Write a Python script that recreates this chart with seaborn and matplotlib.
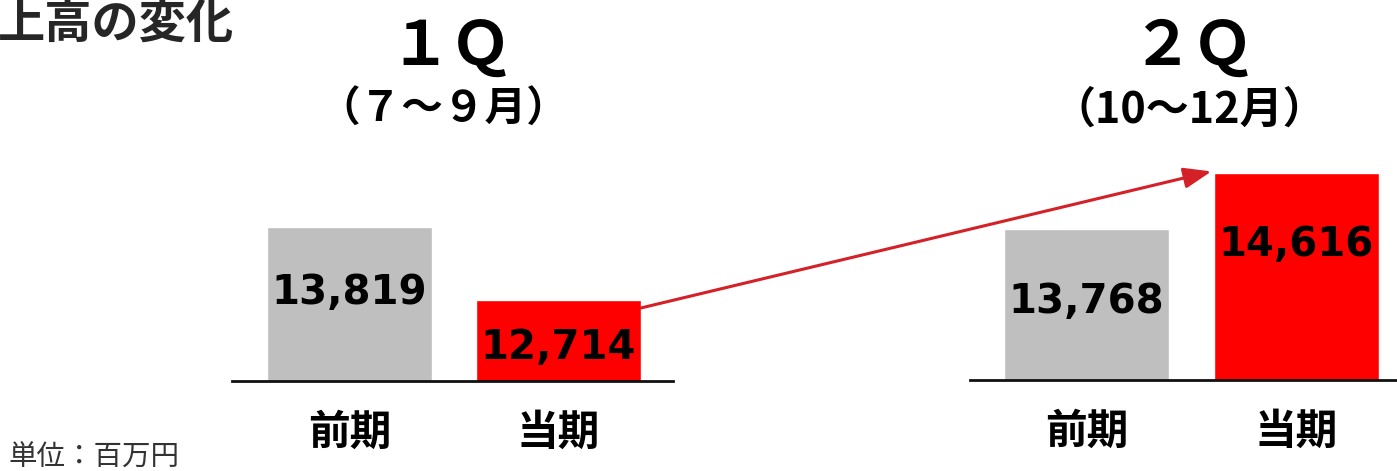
import matplotlib
matplotlib.use("Agg")
import matplotlib.pyplot as plt
import seaborn as sns
import pandas as pd
from matplotlib.patches import ConnectionPatch

# ---- data ----
categories = ["前期", "当期"]
q1_values = [13819, 12714]
q2_values = [13768, 14616]
q1_title = "１Ｑ"
q1_sub = "（７～９月）"
q2_title = "２Ｑ"
q2_sub = "（10～12月）"
chart_title = "上高の変化"
unit_note = "単位：百万円"

# ---- layout / style ----
gray = "#BFBFBF"
red = "#FF0000"
arrow_color = "#D42027"
label_frac_q1 = [0.57, 0.41]
label_frac_q2 = [0.52, 0.655]
ymin, ymax = 11488, 11488 + 231 * 15.14

sns.set_theme(style="white")
plt.rcParams["font.family"] = ["Noto Sans CJK JP", "DejaVu Sans"]

W, H = 1397, 471
fig = plt.figure(figsize=(W / 100, H / 100), dpi=100)
bottom = (H - 381) / H
height = 231 / H
ax1 = fig.add_axes([232 / W, bottom, 441 / W, height])
ax2 = fig.add_axes([970 / W, bottom + 1 / H, 427 / W, height])

bar_w = 0.79


def draw(ax, vals, fracs, xlim):
    df = pd.DataFrame({"cat": categories, "val": vals})
    sns.barplot(data=df, x="cat", y="val", hue="cat", palette=[gray, red],
                width=bar_w, ax=ax, legend=False, saturation=1)
    ax.set_ylim(ymin, ymax)
    ax.set_xlim(*xlim)
    for s in ["left", "right", "top"]:
        ax.spines[s].set_visible(False)
    ax.spines["bottom"].set_color("#111111")
    ax.spines["bottom"].set_linewidth(2)
    ax.set_yticks([])
    ax.set_xlabel("")
    ax.set_ylabel("")
    ax.tick_params(axis="x", length=0, pad=22)
    ax.set_xticks(range(len(categories)))
    ax.set_xticklabels(categories, fontsize=30, fontweight="bold",
                       color="black")
    for i, (v, f) in enumerate(zip(vals, fracs)):
        ax.text(i, ymin + (v - ymin) * f, f"{v:,}", ha="center", va="center",
                fontsize=29, fontweight="bold", color="black",
                family="DejaVu Sans")


draw(ax1, q1_values, label_frac_q1, (-0.562, 1.548))
draw(ax2, q2_values, label_frac_q2, (-0.555, 1.479))

# titles
fig.text(451 / W, 1 - 47 / H, q1_title, ha="center", va="center",
         fontsize=44, fontweight="bold", color="black")
fig.text(443 / W, 1 - 110 / H, q1_sub, ha="center", va="center",
         fontsize=30, fontweight="bold", color="black")
fig.text(1193 / W, 1 - 47 / H, q2_title, ha="center", va="center",
         fontsize=44, fontweight="bold", color="black")
fig.text(1189 / W, 1 - 110 / H, q2_sub, ha="center", va="center",
         fontsize=31, fontweight="bold", color="black")
fig.text(-2 / W, 1 - 24 / H, chart_title, ha="left", va="center",
         fontsize=34, fontweight="bold", color="#262626")
fig.text(8 / W, 1 - 458 / H, unit_note, ha="left", va="center",
         fontsize=20.5, color="#333333")

# arrow from current 1Q bar to current 2Q bar
con = ConnectionPatch(xyA=(1 + bar_w / 2, q1_values[1] - 120), coordsA=ax1.transData,
                      xyB=(1 - bar_w / 2 - 0.01, q2_values[1] + 30), coordsB=ax2.transData,
                      arrowstyle="-|>,head_length=1.2,head_width=0.45",
                      color=arrow_color, lw=2.2, shrinkA=0, shrinkB=0,
                      mutation_scale=14)
fig.add_artist(con)

fig.savefig("out.png", dpi=100)
